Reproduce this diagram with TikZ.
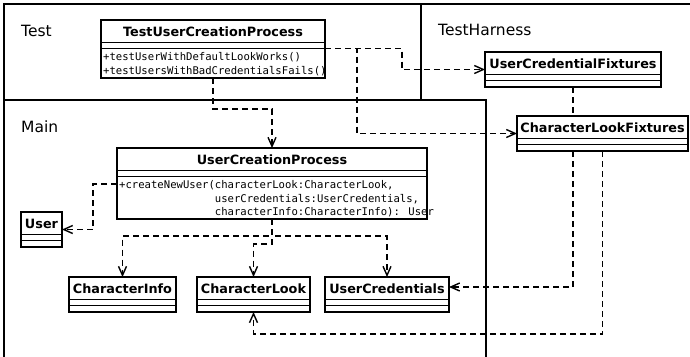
\documentclass[tikz,border=0pt]{standalone}
\usepackage{fontspec}
\setmainfont{DejaVu Sans}
\newfontfamily\opsfont{DejaVu Sans Mono}
\usetikzlibrary{arrows.meta}

% UML class box: name, x, y (top left), width, height, title
\newcommand{\umlclass}[6]{%
  \node[clsbox, minimum width=#4pt, minimum height=#5pt] (#1) at (#2,#3) {};
  \draw[sepline] ([yshift=-22.5pt]#1.north west) -- ([yshift=-22.5pt]#1.north east);
  \draw[sepline] ([yshift=-28.5pt]#1.north west) -- ([yshift=-28.5pt]#1.north east);
  \node[clstitle] (#1-title) at ([yshift=-11.5pt]#1.north) {#6};
}

\begin{document}
\begin{tikzpicture}[x=1pt,y=-1pt,
  frame/.style={draw, line width=1.4pt},
  pkglabel/.style={anchor=base west, font=\fontsize{15.5}{18}\selectfont, inner sep=0pt},
  clsbox/.style={draw, line width=1.5pt, fill=white, inner sep=0pt, outer sep=0pt, anchor=north west},
  sepline/.style={line width=1.5pt},
  clstitle/.style={font=\fontsize{12.8}{15}\selectfont\bfseries, inner sep=0pt},
  ops/.style={font=\fontsize{10.6}{13.5}\selectfont\opsfont, align=left, anchor=north west, inner sep=0pt},
  link/.style={line width=1.4pt, dash pattern=on 6pt off 4pt},
  dep/.style={link, -{Straight Barb[length=9pt,width=8pt]}},
]
\useasboundingbox (0,0) rectangle (690,356);
\clip (0,0) rectangle (690,356);

% packages
\draw[frame] (421,4) rectangle (720,400);
\draw[frame] (4,4) rectangle (421,100);
\draw[frame, fill=white] (4,100) rectangle (486,400);
\node[pkglabel] (lblTest) at (21,36) {Test};
\node[pkglabel] (lblHarness) at (438,35) {TestHarness};
\node[pkglabel] (lblMain) at (21,132) {Main};

% classes
\umlclass{tucp}{101}{20}{224}{58}{TestUserCreationProcess}
\umlclass{ucf}{485}{52}{176}{35}{UserCredentialFixtures}
\umlclass{clf}{517}{116}{171}{35}{CharacterLookFixtures}
\umlclass{ucp}{117}{148}{310}{71}{UserCreationProcess}
\umlclass{user}{21}{212}{41}{35}{User}
\umlclass{ci}{69}{277}{107}{35}{CharacterInfo}
\umlclass{cl}{197}{277}{113}{35}{CharacterLook}
\umlclass{uc}{325}{277}{124}{35}{UserCredentials}

\node[ops] (tucpOps) at (103,52.5)
  {+testUserWithDefaultLookWorks()\\+testUsersWithBadCredentialsFails()};
\node[ops] (ucpOps) at (119,180.5)
  {+createNewUser(characterLook:CharacterLook,\\
   \phantom{+createNewUser(}userCredentials:UserCredentials,\\
   \phantom{+createNewUser(}characterInfo:CharacterInfo): User};
\draw[line width=1.5pt] (tucp.north east) -- (tucp.south east);
\draw[line width=1.5pt] (ucp.north east) -- (ucp.south east);

% dependencies
\coordinate (tucpR) at ([yshift=-28.5pt]tucp.north east);
\draw[dep] (tucp.south) -- ++(0,31) -| (ucp.north);
\draw[dep] (tucpR) -- (402,48.5) |- (ucf.west);
\draw[dep] (tucpR) -- (357,48.5) |- (clf.west);
\draw[dep] ([yshift=-36pt]ucp.north west) -- (93,184) |- (user.east);
\draw[dep] (ucp.south) -- ++(0,17) -| (ci.north);
\draw[dep] (ucp.south) -- ++(0,25) -| (cl.north);
\draw[dep] (ucp.south) -- ++(0,17) -| (uc.north);
\draw[link] (ucf.south) -- (ucf.south |- clf.north);
\draw[dep] (ucf.south |- clf.south) |- ([yshift=7.5pt]uc.east);
\draw[dep] (clf.south) -- ++(0,183) -| (cl.south);
\end{tikzpicture}
\end{document}
